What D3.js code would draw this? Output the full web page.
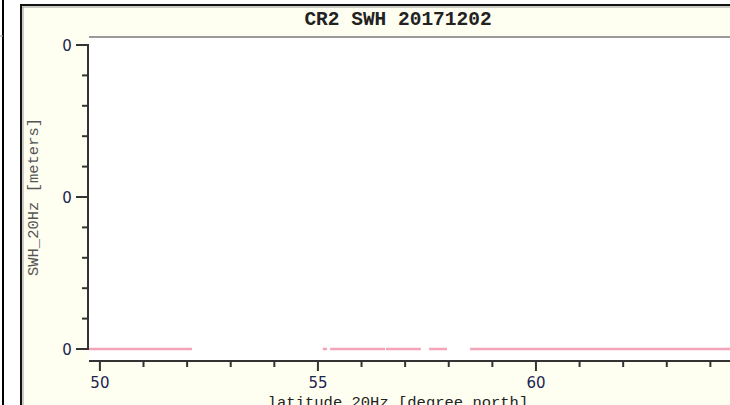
<!DOCTYPE html>
<html lang="en">
<head>
<meta charset="UTF-8">
<title>CR2 SWH 20171202</title>
<script src="https://d3js.org/d3.v7.min.js"></script>
<style>
    body { margin: 0; padding: 0; background: #ffffff; }
    svg { display: block; }
    .tick-label { font-family: "DejaVu Sans", Verdana, sans-serif; fill: #1c2450; }
    .mono { font-family: "Liberation Mono", "Courier New", monospace; }
</style>
</head>
<body>
<div id="vis"></div>
<script>
    // chart data
    const titleText = "CR2 SWH 20171202";
    const xLabel = "latitude_20Hz [degree_north]";
    const yLabel = "SWH_20Hz [meters]";
    const latDomain = [49.75, 64.45];
    const swhDomain = [0, 0.004];
    const xMajorTicks = [50, 55, 60];
    const xMinorTicks = [51, 52, 53, 54, 56, 57, 58, 59, 61, 62, 63, 64];
    const yMajorTicks = [0, 0.002, 0.004];
    const yMinorTicks = [0.0004, 0.0008, 0.0012, 0.0016, 0.0024, 0.0028, 0.0032, 0.0036];
    // track segments with valid SWH (start lat, end lat), gaps between them
    const segStart = [49.75, 55.11, 55.28, 56.56, 57.55, 58.49];
    const segEnd   = [52.11, 55.21, 56.54, 57.36, 57.96, 64.50];
    const segSwh   = [0, 0, 0, 0, 0, 0];

    const W = 730, H = 405;
    const svg = d3.select("#vis").append("svg")
        .attr("width", W)
        .attr("height", H);

    // left window edge
    svg.append("line").attr("x1", 3).attr("x2", 3).attr("y1", 0).attr("y2", H)
        .attr("stroke", "#000").attr("stroke-width", 2);
    svg.append("line").attr("x1", 0).attr("x2", 3).attr("y1", 36).attr("y2", 36)
        .attr("stroke", "#999").attr("stroke-width", 1);

    // panel
    svg.append("rect").attr("x", 21).attr("y", 5).attr("width", W).attr("height", H)
        .attr("fill", "#fefef1").attr("stroke", "#111").attr("stroke-width", 2);
    svg.append("line").attr("x1", 22).attr("x2", W).attr("y1", 7).attr("y2", 7)
        .attr("stroke", "#999").attr("stroke-width", 1);
    svg.append("line").attr("x1", 23).attr("x2", 23).attr("y1", 7).attr("y2", H)
        .attr("stroke", "#999").attr("stroke-width", 1);

    const plot = { left: 89, right: 730, top: 37, bottom: 360 };

    svg.append("rect")
        .attr("x", plot.left).attr("y", plot.top)
        .attr("width", plot.right - plot.left).attr("height", plot.bottom - plot.top)
        .attr("fill", "#ffffff");
    svg.append("line").attr("x1", plot.left).attr("x2", plot.right)
        .attr("y1", plot.top).attr("y2", plot.top)
        .attr("stroke", "#9a9a9a").attr("stroke-width", 2);

    const x = d3.scaleLinear().domain(latDomain).range([plot.left, plot.right]);
    const y = d3.scaleLinear().domain(swhDomain).range([349, 45]);
    const fmt = d3.format(".0f");

    // title
    svg.append("text").attr("class", "mono")
        .attr("x", 398).attr("y", 25)
        .attr("text-anchor", "middle")
        .style("font-size", "19.5px").style("font-weight", "bold")
        .attr("fill", "#222")
        .text(titleText);

    // x axis
    const xAxisY = 361;
    svg.append("line").attr("x1", plot.left).attr("x2", plot.right)
        .attr("y1", xAxisY).attr("y2", xAxisY)
        .attr("stroke", "#333").attr("stroke-width", 2);
    svg.selectAll("line.xmaj").data(xMajorTicks).enter().append("line")
        .attr("class", "xmaj")
        .attr("x1", d => x(d)).attr("x2", d => x(d))
        .attr("y1", xAxisY).attr("y2", xAxisY + 10)
        .attr("stroke", "#333").attr("stroke-width", 2);
    svg.selectAll("line.xmin").data(xMinorTicks).enter().append("line")
        .attr("class", "xmin")
        .attr("x1", d => x(d)).attr("x2", d => x(d))
        .attr("y1", xAxisY).attr("y2", xAxisY + 6)
        .attr("stroke", "#333").attr("stroke-width", 2);
    svg.selectAll("text.xlab").data(xMajorTicks).enter().append("text")
        .attr("class", "tick-label xlab")
        .attr("x", d => x(d)).attr("y", 388)
        .attr("text-anchor", "middle")
        .style("font-size", "15px")
        .text(d => d);
    svg.append("text").attr("class", "mono")
        .attr("x", 398).attr("y", 407)
        .attr("text-anchor", "middle")
        .style("font-size", "15.5px")
        .attr("fill", "#222")
        .text(xLabel);

    // y axis
    const yAxisX = 88;
    svg.append("line").attr("x1", yAxisX).attr("x2", yAxisX)
        .attr("y1", y(swhDomain[1]) - 1).attr("y2", y(swhDomain[0]) + 1)
        .attr("stroke", "#333").attr("stroke-width", 2);
    svg.selectAll("line.ymaj").data(yMajorTicks).enter().append("line")
        .attr("class", "ymaj")
        .attr("x1", yAxisX - 12).attr("x2", yAxisX)
        .attr("y1", d => y(d)).attr("y2", d => y(d))
        .attr("stroke", "#333").attr("stroke-width", 2);
    svg.selectAll("line.ymin").data(yMinorTicks).enter().append("line")
        .attr("class", "ymin")
        .attr("x1", yAxisX - 6).attr("x2", yAxisX)
        .attr("y1", d => y(d)).attr("y2", d => y(d))
        .attr("stroke", "#333").attr("stroke-width", 2);
    svg.selectAll("text.ylab").data(yMajorTicks).enter().append("text")
        .attr("class", "tick-label ylab")
        .attr("x", 67).attr("y", d => y(d) + 5.5)
        .attr("text-anchor", "middle")
        .style("font-size", "15px")
        .text(d => fmt(d));
    svg.append("text").attr("class", "mono")
        .attr("transform", "translate(38,197) rotate(-90)")
        .attr("text-anchor", "middle")
        .style("font-size", "15.5px")
        .attr("fill", "#555")
        .text(yLabel);

    // SWH track
    const segs = segStart.map((s, i) => ({ s: s, e: segEnd[i], v: segSwh[i] }));
    svg.append("g")
        .selectAll("line")
        .data(segs)
        .enter().append("line")
        .attr("x1", d => Math.max(plot.left, x(d.s)))
        .attr("x2", d => Math.min(plot.right, x(d.e)))
        .attr("y1", d => y(d.v)).attr("y2", d => y(d.v))
        .attr("stroke", "#f5a3b6").attr("stroke-width", 2.5);
</script>
</body>
</html>
